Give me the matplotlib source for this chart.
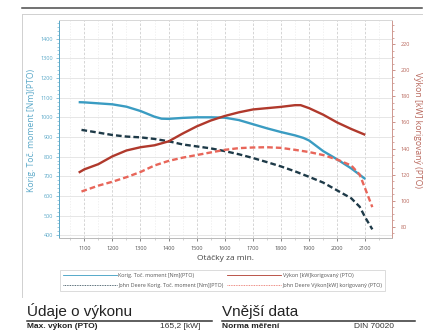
import matplotlib
matplotlib.use('Agg')
import matplotlib.pyplot as plt
from matplotlib.lines import Line2D
from matplotlib.ticker import MultipleLocator

# data
rpm_moment = [1080, 1100, 1200, 1250, 1300, 1350, 1375, 1400, 1450, 1500, 1550, 1600, 1650,
              1700, 1750, 1800, 1850, 1880, 1900, 1950, 2000, 2050, 2100]
moment = [1077, 1076, 1066, 1054, 1032, 1003, 993, 992, 997, 1000, 1000, 998, 986,
          965, 944, 925, 908, 895, 882, 828, 786, 740, 686]

rpm_vykon = [1080, 1100, 1150, 1200, 1250, 1300, 1350, 1400, 1450, 1500, 1550, 1600, 1650,
             1700, 1750, 1800, 1850, 1870, 1900, 1950, 2000, 2050, 2100]
vykon = [121.5, 124, 128, 134, 138.5, 141, 142.5, 145.5, 151.5, 157, 161.5, 165, 167.8,
         170, 171, 172, 173.3, 173.3, 171, 166, 160, 155, 150.5]

rpm_jd = [1090, 1150, 1200, 1250, 1300, 1350, 1400, 1450, 1500, 1550, 1600, 1650, 1700,
          1750, 1800, 1850, 1900, 1950, 2000, 2050, 2080, 2100, 2125]
jd_moment = [936, 922, 910, 902, 898, 890, 878, 862, 852, 842, 828, 812, 793,
             772, 750, 725, 697, 668, 628, 588, 545, 490, 430]
jd_vykon = [107, 111.5, 114.5, 118, 122, 127, 130.5, 133, 135, 137, 139, 140.3, 140.8,
            141, 140.5, 139, 137.3, 135, 131.5, 127, 120, 109, 95]

x_ticks = list(range(1100, 2101, 100))
left_ticks = list(range(400, 1401, 100))
right_ticks = list(range(80, 221, 20))

C_BLUE = '#3a9cc2'
C_RED = '#b0392c'
C_DARK = '#1e3a48'
C_SALMON = '#e8665a'
C_LTICK = '#5aa8c8'
C_RTICK = '#b8675c'

plt.rcParams['font.family'] = ['Open Sans', 'DejaVu Sans']

W, H = 440, 330
fig = plt.figure(figsize=(W / 100, H / 100), dpi=100)
fig.patch.set_facecolor('white')

def fx(px):
    return px / W

def fy(py):
    return 1 - py / H

ax = fig.add_axes([fx(59), fy(238), fx(392) - fx(59), fy(20) - fy(238)])
ax2 = ax.twinx()

lw = 1.7
ax.plot(rpm_moment, moment, color=C_BLUE, lw=lw, solid_capstyle='butt')
ax.plot(rpm_jd, jd_moment, color=C_DARK, lw=lw, dashes=(2.4, 1.3))
ax2.plot(rpm_vykon, vykon, color=C_RED, lw=lw, solid_capstyle='butt')
ax2.plot(rpm_jd, jd_vykon, color=C_SALMON, lw=lw, dashes=(2.4, 1.3))

ax.set_xlim(1010, 2195)
ax.set_ylim(386, 1495)
ax2.set_ylim(71.3, 238.7)

ax.set_xticks(x_ticks)
ax.set_yticks(left_ticks)
ax2.set_yticks(right_ticks)
ax.xaxis.set_minor_locator(MultipleLocator(50))
ax.yaxis.set_minor_locator(MultipleLocator(20))
ax2.yaxis.set_minor_locator(MultipleLocator(5))

ax.grid(True, axis='x', which='major', color='#cfcfcf', lw=0.6, ls=(0, (3, 2)))
ax.grid(True, axis='x', which='minor', color='#ececec', lw=0.5, ls=(0, (2, 2)))
ax.grid(True, axis='y', which='major', color='#e2e2e2', lw=0.6)
ax.set_axisbelow(True)

ax.tick_params(axis='x', which='major', labelsize=4, colors='#555555', length=2, width=0.5, pad=4)
ax.tick_params(axis='x', which='minor', length=1.2, width=0.4, colors='#aaaaaa')
ax.tick_params(axis='y', which='major', labelsize=4, colors=C_LTICK, length=2, width=0.5, pad=2)
ax.tick_params(axis='y', which='minor', length=1.2, width=0.4, colors=C_LTICK)
ax2.tick_params(axis='y', which='major', labelsize=4, colors=C_RTICK, length=2, width=0.5, pad=4)
ax2.tick_params(axis='y', which='minor', length=1.2, width=0.4, colors=C_RTICK)

for a in (ax, ax2):
    a.spines['top'].set_color('#d8d8d8')
    a.spines['bottom'].set_color('#bbbbbb')
    a.spines['left'].set_color(C_LTICK)
    a.spines['right'].set_color('#cf9a92')
    for s in a.spines.values():
        s.set_linewidth(0.7)

fig.text(fx(32), fy(130), 'Korig. Toč. moment [Nm](PTO)', rotation=90, ha='center', va='center',
         fontsize=6.2, color=C_LTICK)
fig.text(fx(417), fy(130), 'Výkon [kW] korigovaný (PTO)', rotation=270, ha='center', va='center',
         fontsize=6.2, color=C_RTICK)
fig.text(fx(225), fy(259), 'Otáčky za min.', ha='center', va='center', fontsize=6, color='#444444')

# legend
handles = [
    Line2D([], [], color=C_BLUE, lw=0.6),
    Line2D([], [], color=C_DARK, lw=0.6, ls=(0, (1, 1))),
    Line2D([], [], color=C_RED, lw=0.6),
    Line2D([], [], color=C_SALMON, lw=0.6, ls=(0, (1, 1))),
]
labels = ['Korig. Toč. moment [Nm](PTO)', 'John Deere Korig. Toč. moment [Nm](PTO)',
          'Výkon [kW]korigovaný (PTO)', 'John Deere Výkon[kW] korigovaný (PTO)']
leg = fig.legend(handles, labels, ncol=2, loc='center',
                 bbox_to_anchor=(fx(45), fy(293), fx(400) - fx(45), fy(268) - fy(293)),
                 fontsize=3.9, handlelength=10, handletextpad=0.3, columnspacing=0.6,
                 labelspacing=0.9, borderpad=0.5, fancybox=False, frameon=True,
                 labelcolor='#555555')
leg.get_frame().set_edgecolor('#cccccc')
leg.get_frame().set_linewidth(0.6)

# page frame
fig.add_artist(Line2D([fx(22), fx(422)], [fy(8), fy(8)], color='#4a4a4a', lw=1.1))
fig.add_artist(Line2D([fx(22), fx(422)], [fy(14), fy(14)], color='#d0d0d0', lw=0.7))
fig.add_artist(Line2D([fx(22), fx(22)], [fy(14), fy(297)], color='#d0d0d0', lw=0.7))

# section below chart
sec_font = ['Liberation Sans', 'DejaVu Sans']
fig.text(fx(27), fy(316), 'Údaje o výkonu', fontsize=11, color='#222222', family=sec_font,
         ha='left', va='baseline')
fig.text(fx(222), fy(316), 'Vnější data', fontsize=11, color='#222222', family=sec_font,
         ha='left', va='baseline')
fig.add_artist(Line2D([fx(27), fx(212)], [fy(321), fy(321)], color='#333333', lw=1.1))
fig.add_artist(Line2D([fx(222), fx(415)], [fy(321), fy(321)], color='#333333', lw=1.1))
fig.text(fx(27), fy(328), 'Max. výkon (PTO)', fontsize=6, weight='bold', color='#222222',
         family=sec_font, ha='left', va='baseline')
fig.text(fx(160), fy(328), '165,2 [kW]', fontsize=6, color='#333333', family=sec_font,
         ha='left', va='baseline')
fig.text(fx(222), fy(328), 'Norma měření', fontsize=6, weight='bold', color='#222222',
         family=sec_font, ha='left', va='baseline')
fig.text(fx(354), fy(328), 'DIN 70020', fontsize=6, color='#333333', family=sec_font,
         ha='left', va='baseline')

fig.savefig('out.png', dpi=100)
